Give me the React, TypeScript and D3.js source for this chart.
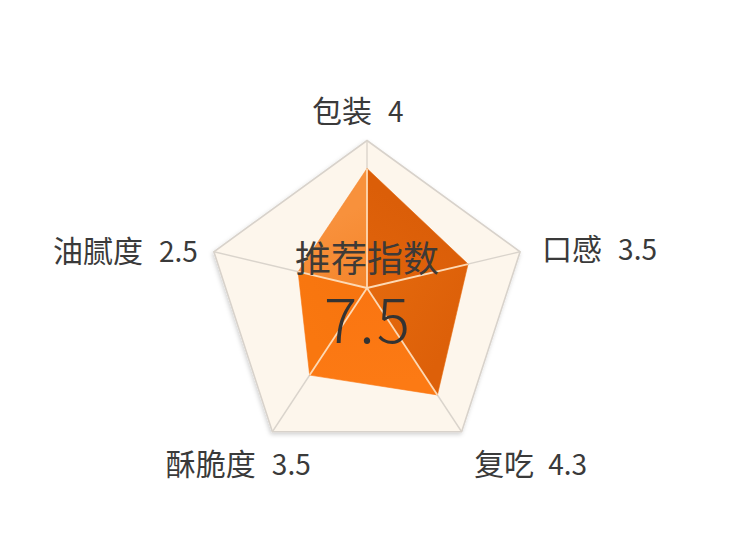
import { useMemo } from "react";
import * as d3 from "d3";

// axes run clockwise from the top
const axes = ["包装", "口感", "复吃", "酥脆度", "油腻度"];
const scoreLabels = ["4", "3.5", "4.3", "3.5", "2.5"];
// where the filled shape actually sits on each spoke (0–5)
const plotted = [4.05, 3.3, 3.72, 3.03, 2.25];
const centerTitle = "推荐指数";
const centerValue = "7.5";

// one shade per wedge, wedge i sits between axis i and axis i+1
const wedgeColors = ["#E1640C", "#E4690D", "#FA7511", "#F6740F", "#F4852B"];
const wedgeHighlights = ["#DB5E08", "#DD6009", "#FC7A14", "#F9770F", "#F8913C"];

// label placement relative to each outer vertex
const labelLayout: { anchor: string; dx: number; dy: number; gap: number }[] = [
  { anchor: "start", dx: -55, dy: -19, gap: 16 },
  { anchor: "start", dx: 22, dy: 8, gap: 16 },
  { anchor: "start", dx: 12.5, dy: 43, gap: 14 },
  { anchor: "start", dx: -106.5, dy: 43, gap: 16 },
  { anchor: "end", dx: -16, dy: 10, gap: 16 },
];

const W = 750;
const H = 550;
const FONT = '"Microsoft YaHei", "Noto Sans CJK SC", "Noto Sans", sans-serif';

export default function App() {
  const cx = 367;
  const cy = 301.5;
  const R = 161;
  const hub: [number, number] = [367, 288];

  const geo = useMemo(() => {
    const n = axes.length;
    const angle = d3.scaleLinear().domain([0, n]).range([0, 2 * Math.PI]);
    const frac = d3.scaleLinear().domain([0, 5]).range([0, 1]);

    const outer = axes.map((_, i) => {
      const a = angle(i);
      return [cx + R * Math.sin(a), cy - R * Math.cos(a)] as [number, number];
    });
    const pts = outer.map((v, i) => {
      const f = frac(plotted[i]);
      return [hub[0] + f * (v[0] - hub[0]), hub[1] + f * (v[1] - hub[1])] as [number, number];
    });
    const line = d3.line().curve(d3.curveLinearClosed);
    const wedges = pts.map((p, i) => line([hub, p, pts[(i + 1) % n]]) as string);
    return { outer, pts, frame: line(outer) as string, wedges };
  }, []);

  return (
    <svg
      width={W}
      height={H}
      viewBox={`0 0 ${W} ${H}`}
      style={{ position: "absolute", left: 0, top: 0, background: "#fff" }}
    >
      <defs>
        <filter id="shadow" x="-10%" y="-10%" width="120%" height="125%">
          <feDropShadow dx="-1" dy="2" stdDeviation="2" floodColor="#000" floodOpacity="0.18" />
        </filter>
        {geo.wedges.map((_, i) => {
          const a = geo.pts[i];
          const b = geo.pts[(i + 1) % axes.length];
          return (
            <linearGradient
              key={i}
              id={`wg${i}`}
              gradientUnits="userSpaceOnUse"
              x1={(a[0] + b[0]) / 2}
              y1={(a[1] + b[1]) / 2}
              x2={hub[0]}
              y2={hub[1]}
            >
              <stop offset="0%" stopColor={wedgeHighlights[i]} />
              <stop offset="100%" stopColor={wedgeColors[i]} />
            </linearGradient>
          );
        })}
      </defs>

      {/* frame */}
      <path d={geo.frame} fill="#FDF6EC" stroke="#D8D2CB" strokeWidth={1.6} filter="url(#shadow)" />
      {geo.outer.map((v, i) => (
        <line key={i} x1={hub[0]} y1={hub[1]} x2={v[0]} y2={v[1]} stroke="#DAD4CC" strokeWidth={1.4} />
      ))}

      {/* filled wedges */}
      {geo.wedges.map((d, i) => (
        <path key={i} d={d} fill={`url(#wg${i})`} stroke={wedgeColors[i]} strokeWidth={0.6} />
      ))}
      {geo.pts.map((p, i) => (
        <line key={i} x1={hub[0]} y1={hub[1]} x2={p[0]} y2={p[1]} stroke="#FDD9B4" strokeWidth={1.8} />
      ))}

      {/* axis labels */}
      {geo.outer.map((v, i) => (
        <text
          key={i}
          x={v[0] + labelLayout[i].dx}
          y={v[1] + labelLayout[i].dy}
          textAnchor={labelLayout[i].anchor}
          fontFamily={FONT}
          fontSize={30}
          fill="#3A3A3A"
        >
          {axes[i]}
          <tspan dx={labelLayout[i].gap} fontSize={28}>
            {scoreLabels[i]}
          </tspan>
        </text>
      ))}

      {/* center score */}
      <text x={cx} y={272} textAnchor="middle" fontFamily={FONT} fontSize={36} fill="#3E3A37">
        {centerTitle}
      </text>
      <text
        x={cx + 1}
        y={343}
        textAnchor="middle"
        fontFamily={FONT}
        fontSize={62}
        fontWeight={300}
        letterSpacing={2}
        fill="#333"
      >
        {centerValue}
      </text>
    </svg>
  );
}
